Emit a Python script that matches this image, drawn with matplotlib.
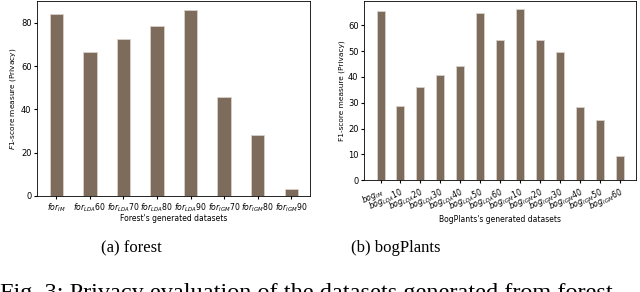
import matplotlib
matplotlib.use("Agg")
import matplotlib.pyplot as plt
import numpy as np

# dane
forest_labels = [r"$for_{IM}$", r"$for_{LDA}$60", r"$for_{LDA}$70", r"$for_{LDA}$80",
                 r"$for_{LDA}$90", r"$for_{IGM}$70", r"$for_{IGM}$80", r"$for_{IGM}$90"]
forest_values = [83.8, 66.4, 72.4, 78.5, 85.8, 45.5, 28.2, 3.2]

bog_labels = [r"$bog_{IM}$", r"$bog_{LDA}$10", r"$bog_{LDA}$20", r"$bog_{LDA}$30",
              r"$bog_{LDA}$40", r"$bog_{LDA}$50", r"$bog_{LDA}$60", r"$bog_{IGM}$10",
              r"$bog_{IGM}$20", r"$bog_{IGM}$30", r"$bog_{IGM}$40", r"$bog_{IGM}$50",
              r"$bog_{IGM}$60"]
bog_values = [65.4, 28.9, 36.0, 40.6, 44.1, 64.8, 54.3, 66.2, 54.5, 49.6, 28.4, 23.3, 9.2]

kolor = "#7d6b5b"
krawedz = "#d9d1c9"

fig = plt.figure(figsize=(6.4, 2.92), dpi=100)

ax1 = fig.add_axes([0.058, 0.329, 0.427, 0.668])
x1 = np.arange(len(forest_values))
ax1.bar(x1, forest_values, width=0.4, color=kolor, edgecolor=krawedz, linewidth=0.6)
ax1.set_xticks(x1)
ax1.set_xticklabels(forest_labels, fontsize=5.6)
ax1.tick_params(axis="y", labelsize=6, length=2.5, pad=1.5)
ax1.tick_params(axis="x", length=2.5, pad=1.5)
ax1.set_ylabel("$F1$-score measure (Privacy)", fontsize=5.3, labelpad=2)
ax1.set_xlabel("Forest's generated datasets", fontsize=5.5, labelpad=0)

ax2 = fig.add_axes([0.569, 0.383, 0.425, 0.614])
x2 = np.arange(len(bog_values))
ax2.bar(x2, bog_values, width=0.4, color=kolor, edgecolor=krawedz, linewidth=0.6)
ax2.set_xticks(x2)
ax2.set_xticklabels(bog_labels, fontsize=5.6, rotation=25, ha="right", rotation_mode="anchor")
ax2.tick_params(axis="y", labelsize=6, length=2.5, pad=1.5)
ax2.tick_params(axis="x", length=2.5, pad=1.5)
ax2.set_ylabel("F1-score measure (Privacy)", fontsize=5.3, labelpad=2)
ax2.set_xlabel("BogPlants's generated datasets", fontsize=5.5, labelpad=1)

for ax in (ax1, ax2):
    for s in ax.spines.values():
        s.set_linewidth(0.6)

# podpisy jak w artykule
fig.text(131 / 640, 1 - 248 / 292, "(a) forest", fontsize=12, family="Liberation Serif",
         ha="center", va="center")
fig.text(396 / 640, 1 - 248 / 292, "(b) bogPlants", fontsize=12, family="Liberation Serif",
         ha="center", va="center")
fig.text(0.0, 1 - 283 / 292, "Fig. 3: Privacy evaluation of the datasets generated from forest",
         fontsize=17.5, family="Liberation Serif", ha="left", va="top")

fig.savefig("out.png", dpi=100)
